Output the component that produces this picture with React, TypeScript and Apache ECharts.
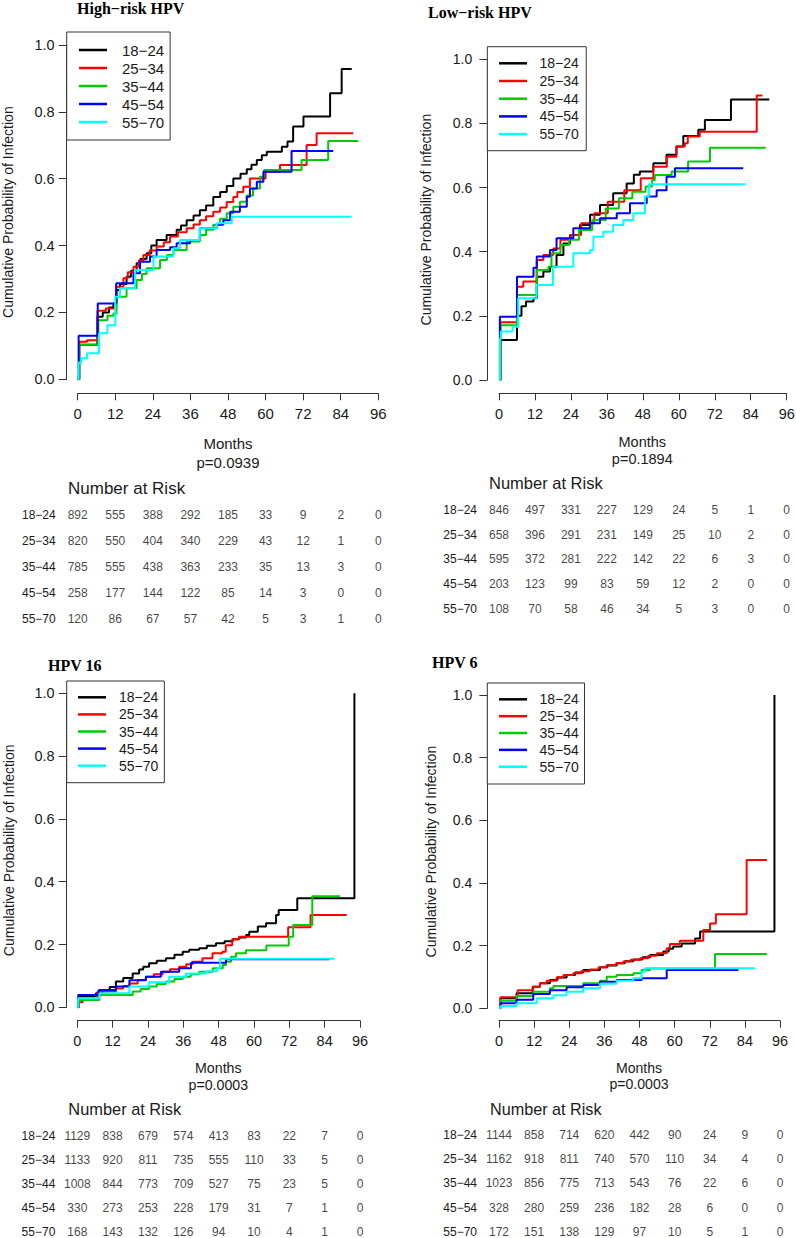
import React, { useEffect, useRef } from "react";
import * as echarts from "echarts";

const GROUPS = ["18−24", "25−34", "35−44", "45−54", "55−70"];
const COLORS = ["#000000", "#ff0000", "#00cd00", "#0000ff", "#00ffff"];
const RISK_MONTHS = [0, 12, 24, 36, 48, 60, 72, 84, 96];

// ---------- High-risk HPV ----------
const hr_18_24 = [[0,0],[0.5,0.103],[6.3,0.187],[8,0.2],[10,0.215],[11.4,0.227],[12.4,0.267],[13.5,0.285],[15.6,0.307],[17,0.325],[18.8,0.347],[20,0.36],[22,0.377],[23.5,0.4],[25.2,0.417],[28.4,0.432],[31.6,0.447],[33,0.46],[34.8,0.476],[37,0.49],[39,0.506],[41,0.52],[43.3,0.545],[45.5,0.56],[47.6,0.578],[49.7,0.601],[52,0.615],[54,0.628],[55.5,0.642],[57.2,0.656],[58.8,0.67],[60.4,0.681],[65.2,0.696],[67,0.711],[68.8,0.756],[72.1,0.786],[80.6,0.856],[84.3,0.928],[87.5,0.928]];
const hr_25_34 = [[0,0],[0.5,0.112],[3,0.117],[6.3,0.205],[9,0.212],[12.3,0.277],[14.6,0.302],[16,0.32],[17.8,0.337],[19.5,0.355],[21,0.372],[23,0.385],[25.2,0.397],[27.5,0.41],[29.5,0.427],[32,0.44],[34.8,0.452],[37,0.463],[39,0.476],[41,0.488],[43.3,0.501],[45.5,0.514],[47.6,0.53],[49.7,0.545],[51,0.56],[52.9,0.576],[55,0.601],[60,0.621],[64.6,0.641],[73.1,0.701],[76.3,0.736],[88,0.736]];
const hr_35_44 = [[0,0],[0.5,0.103],[6.6,0.177],[9.5,0.19],[11.4,0.197],[12.4,0.247],[15.6,0.272],[18.8,0.297],[20.5,0.315],[22,0.332],[26.3,0.357],[28.5,0.372],[30.6,0.387],[34.8,0.412],[39,0.432],[41,0.447],[43.3,0.462],[45.5,0.48],[47.6,0.497],[49.7,0.516],[51.8,0.531],[54,0.55],[56,0.571],[58.2,0.606],[59.5,0.626],[71.5,0.656],[80,0.713],[89.6,0.713]];
const hr_45_54 = [[0,0],[0.3,0.13],[6.4,0.227],[12.3,0.287],[17.8,0.317],[19.9,0.352],[23.1,0.367],[25.2,0.387],[29.5,0.395],[31.6,0.407],[35.9,0.417],[39,0.452],[44.4,0.462],[46.5,0.476],[48.7,0.501],[51.8,0.516],[54,0.546],[55,0.571],[57.2,0.591],[59.3,0.621],[68.3,0.683],[81.6,0.683]];
const hr_55_70 = [[0,0],[0.3,0.05],[1.2,0.063],[3,0.078],[6.8,0.138],[9.5,0.162],[12,0.247],[13.5,0.272],[18.3,0.327],[24.2,0.367],[30.5,0.392],[32.7,0.417],[39,0.452],[44.4,0.467],[49.2,0.486],[87.5,0.486]];
const hrRisk = [
  [892, 555, 388, 292, 185, 33, 9, 2, 0],
  [820, 550, 404, 340, 229, 43, 12, 1, 0],
  [785, 555, 438, 363, 233, 35, 13, 3, 0],
  [258, 177, 144, 122, 85, 14, 3, 0, 0],
  [120, 86, 67, 57, 42, 5, 3, 1, 0],
];

// ---------- Low-risk HPV ----------
const lr_18_24 = [[0,0],[0.5,0.125],[6,0.2],[7.5,0.23],[9,0.245],[11.5,0.255],[12.6,0.322],[14.8,0.338],[17,0.353],[19.2,0.39],[21.5,0.426],[23.7,0.452],[27,0.483],[30.4,0.515],[33.7,0.546],[38.1,0.582],[42.6,0.613],[45,0.64],[47,0.65],[51.5,0.676],[55.9,0.702],[59.2,0.728],[61.5,0.761],[66.5,0.78],[68.7,0.811],[77.4,0.875],[90.2,0.875]];
const lr_25_34 = [[0,0],[0.5,0.18],[6,0.291],[8.1,0.307],[12.6,0.374],[14.8,0.39],[18.1,0.41],[20.5,0.437],[24,0.452],[27.4,0.489],[31.8,0.52],[36.3,0.556],[41.8,0.592],[47.3,0.629],[51.5,0.665],[56,0.696],[59.2,0.728],[62,0.738],[63,0.759],[67,0.774],[86,0.887],[87.9,0.887]];
const lr_35_44 = [[0,0],[0.5,0.171],[6,0.265],[12.6,0.343],[16.5,0.353],[17.5,0.395],[20.5,0.421],[23.4,0.437],[26.7,0.468],[31.1,0.499],[35.6,0.535],[40,0.567],[44.5,0.587],[48.9,0.603],[51.1,0.624],[52,0.639],[57.6,0.65],[63.1,0.681],[70.4,0.724],[89,0.724]];
const lr_45_54 = [[0,0],[0.3,0.197],[6,0.322],[11.5,0.35],[12.6,0.385],[17,0.405],[19.2,0.442],[24.8,0.473],[30.4,0.489],[33.7,0.504],[39.3,0.52],[43.7,0.551],[49.3,0.572],[52.6,0.592],[55.9,0.634],[58.7,0.66],[81.5,0.66]];
const lr_55_70 = [[0,0],[0.3,0.13],[0.6,0.151],[4.5,0.166],[6.4,0.255],[12.5,0.296],[18,0.353],[24.8,0.395],[30.4,0.405],[31.5,0.447],[34.8,0.462],[38.1,0.483],[41.5,0.499],[44.8,0.52],[48.7,0.572],[50,0.61],[82.3,0.61]];
const lrRisk = [
  [846, 497, 331, 227, 129, 24, 5, 1, 0],
  [658, 396, 291, 231, 149, 25, 10, 2, 0],
  [595, 372, 281, 222, 142, 22, 6, 3, 0],
  [203, 123, 99, 83, 59, 12, 2, 0, 0],
  [108, 70, 58, 46, 34, 5, 3, 0, 0],
];

// ---------- HPV 16 ----------
const h16_18_24 = [[0,0],[0.5,0.034],[6.3,0.045],[9,0.055],[11,0.065],[13.1,0.082],[15.6,0.093],[18.8,0.108],[21,0.12],[22.4,0.129],[24.4,0.14],[27,0.148],[30.1,0.156],[33,0.167],[35.8,0.177],[38,0.183],[41.4,0.188],[44,0.196],[47.1,0.204],[50,0.21],[52.8,0.217],[55,0.222],[57.3,0.23],[58.4,0.241],[61.3,0.257],[64.1,0.268],[67.5,0.294],[68.4,0.31],[74.7,0.347],[94.1,1.0]];
const h16_25_34 = [[0,0],[0.5,0.016],[1.8,0.023],[6.9,0.05],[13.1,0.06],[15.5,0.068],[17.7,0.076],[20.5,0.087],[23.3,0.097],[26,0.105],[29,0.113],[31.5,0.121],[34.6,0.129],[37,0.137],[39.1,0.145],[42.5,0.156],[45.9,0.172],[49.3,0.177],[50.4,0.198],[52.6,0.217],[54.9,0.225],[71.6,0.255],[79.2,0.294],[91.5,0.294]];
const h16_35_44 = [[0,0],[0.5,0.023],[7.5,0.039],[18.8,0.05],[21.5,0.058],[24.4,0.066],[27,0.074],[30.1,0.082],[33,0.09],[35.8,0.097],[38.5,0.105],[41.4,0.113],[46,0.124],[49.4,0.135],[50.5,0.145],[52.2,0.161],[53.9,0.172],[57.3,0.182],[64.2,0.197],[71.8,0.225],[73.3,0.262],[79.8,0.354],[89.2,0.354]];
const h16_45_54 = [[0,0],[0.3,0.039],[7.3,0.055],[13.1,0.066],[17.7,0.086],[23.3,0.097],[28.4,0.113],[34.6,0.124],[38.6,0.142],[50.5,0.153],[85.6,0.153]];
const h16_55_70 = [[0,0],[0.3,0.029],[7.5,0.045],[17.7,0.066],[24.4,0.08],[31.2,0.097],[36.9,0.108],[43.7,0.115],[47.5,0.125],[48.5,0.155],[87.3,0.155]];
const h16Risk = [
  [1129, 838, 679, 574, 413, 83, 22, 7, 0],
  [1133, 920, 811, 735, 555, 110, 33, 5, 0],
  [1008, 844, 773, 709, 527, 75, 23, 5, 0],
  [330, 273, 253, 228, 179, 31, 7, 1, 0],
  [168, 143, 132, 126, 94, 10, 4, 1, 0],
];

// ---------- HPV 6 ----------
const h6_18_24 = [[0,0],[0.5,0.032],[6,0.048],[11.5,0.069],[14,0.08],[17.4,0.09],[20,0.098],[23.1,0.106],[26,0.114],[28.8,0.122],[34.5,0.131],[37,0.137],[40.2,0.144],[43,0.15],[45.9,0.156],[49,0.163],[51.6,0.17],[56.1,0.181],[58,0.19],[59.5,0.197],[62.4,0.207],[67,0.223],[68.7,0.245],[94.1,1.0]];
const h6_25_34 = [[0,0],[0.5,0.035],[6.4,0.058],[11.7,0.069],[14,0.08],[16.3,0.088],[19.7,0.099],[22,0.106],[25.4,0.112],[28,0.118],[31.1,0.124],[34,0.131],[36.8,0.138],[40,0.144],[42.5,0.149],[45,0.155],[48.2,0.16],[51,0.168],[53.9,0.176],[57.3,0.192],[58.4,0.205],[61.8,0.216],[69.8,0.25],[72.1,0.271],[74.1,0.3],[84.6,0.473],[91.5,0.473]];
const h6_35_44 = [[0,0],[0.5,0.024],[6,0.039],[11.7,0.053],[17.4,0.064],[18.6,0.071],[28.8,0.08],[34.5,0.088],[36.8,0.101],[40.2,0.106],[45.9,0.112],[48.7,0.122],[51.6,0.127],[73.8,0.173],[91.5,0.173]];
const h6_45_54 = [[0,0],[0.5,0.016],[6,0.027],[11.7,0.046],[17.4,0.058],[23.1,0.067],[28.8,0.074],[34.5,0.085],[40.2,0.09],[48.7,0.096],[57.3,0.122],[81.8,0.122]];
const h6_55_70 = [[0,0],[0.5,0.007],[6,0.016],[12.9,0.032],[18.6,0.042],[23.1,0.053],[28.8,0.064],[34.5,0.078],[40.2,0.088],[45.9,0.096],[48.7,0.117],[49.9,0.128],[87.5,0.128]];
const h6Risk = [
  [1144, 858, 714, 620, 442, 90, 24, 9, 0],
  [1162, 918, 811, 740, 570, 110, 34, 4, 0],
  [1023, 856, 775, 713, 543, 76, 22, 6, 0],
  [328, 280, 259, 236, 182, 28, 6, 0, 0],
  [172, 151, 138, 129, 97, 10, 5, 1, 0],
];

const TITLES = ["High−risk HPV", "Low−risk HPV", "HPV 16", "HPV 6"];
const PVALUES = ["p=0.0939", "p=0.1894", "p=0.0003", "p=0.0003"];
const CURVES = [
  [hr_18_24, hr_25_34, hr_35_44, hr_45_54, hr_55_70],
  [lr_18_24, lr_25_34, lr_35_44, lr_45_54, lr_55_70],
  [h16_18_24, h16_25_34, h16_35_44, h16_45_54, h16_55_70],
  [h6_18_24, h6_25_34, h6_35_44, h6_45_54, h6_55_70],
];
const RISKS = [hrRisk, lrRisk, h16Risk, h6Risk];

// layout (pixels)
const LAYOUT = [
  { gx: 77.7, gy: 45, gw: 300.6, gh: 334.3, yOff: 11, xOff: 14, yMar: 12, xMar: 13, xFont: 15, yFont: 14.5,
    tX: 77, tY: 8, ytX: 8, mX: 228, mY: 443, pY: 462, mFont: 15, narX: 68, narY: 488, narFont: 17,
    tTop: 502, tH: 129.5, lg: { left: 66.7, top: 32, h: 18, pad: [9, 6, 9, 12.3], font: 15, tp: 10 } },
  { gx: 499, gy: 59.3, gw: 287.7, gh: 320.7, yOff: 11.7, xOff: 13.3, yMar: 15, xMar: 13, xFont: 14.5, yFont: 14,
    tX: 428, tY: 12, ytX: 426, mX: 642.3, mY: 441.7, pY: 459, mFont: 14.5, narX: 489, narY: 483, narFont: 16.5,
    tTop: 497.6, tH: 123.5, lg: { left: 487.3, top: 46.7, h: 17.7, pad: [7.75, 7.4, 7.75, 11.7], font: 14, tp: 7.5 } },
  { gx: 77.3, gy: 693.3, gw: 282.7, gh: 314, yOff: 10.6, xOff: 13.4, yMar: 12, xMar: 12.5, xFont: 14.5, yFont: 14.5,
    tX: 48, tY: 665, ytX: 9, mX: 218.3, mY: 1068, pY: 1085, mFont: 14.2, narX: 68.3, narY: 1109.3, narFont: 16.4,
    tTop: 1123.6, tH: 120.75, lg: { left: 66.7, top: 681, h: 17.1, pad: [7.75, 6, 8.45, 11.3], font: 14, tp: 8 } },
  { gx: 499, gy: 695, gw: 281, gh: 313.3, yOff: 11.7, xOff: 12.4, yMar: 15, xMar: 12.5, xFont: 14.5, yFont: 14,
    tX: 432, tY: 662, ytX: 431, mX: 639, mY: 1067.7, pY: 1084, mFont: 14.1, narX: 490, narY: 1108.7, narFont: 16.2,
    tTop: 1122.9, tH: 121, lg: { left: 487.3, top: 683, h: 16.85, pad: [7.9, 5.7, 8.85, 11.7], font: 14, tp: 7.5 } },
];

const SANS = "'Liberation Sans', Arial, sans-serif";
const SERIF = "'Liberation Serif', 'Times New Roman', serif";
const AX = "#333";
const TXT = "#1a1a1a";

function buildOption() {
  const grid: any[] = [];
  const xAxis: any[] = [];
  const yAxis: any[] = [];
  const series: any[] = [];
  const legend: any[] = [];
  const graphic: any[] = [];

  // plot grids: 0..3, table grids: 4..7
  LAYOUT.forEach((L, i) => {
    grid[i] = { left: L.gx, top: L.gy, width: L.gw, height: L.gh, outerBoundsMode: "none", containLabel: false };
    grid[4 + i] = { left: L.gx, top: L.tTop, width: L.gw, height: L.tH, outerBoundsMode: "none", containLabel: false };

    xAxis[i] = {
      type: "value", gridIndex: i, min: 0, max: 96, interval: 12, offset: L.xOff,
      axisLine: { show: true, onZero: false, lineStyle: { color: AX, width: 1 } },
      axisTick: { show: true, length: 7, lineStyle: { color: AX, width: 1 } },
      axisLabel: { margin: L.xMar, fontSize: L.xFont, color: TXT, fontFamily: SANS },
      splitLine: { show: false },
    };
    yAxis[i] = {
      type: "value", gridIndex: i, min: 0, max: 1, interval: 0.2, offset: L.yOff,
      axisLine: { show: true, onZero: false, lineStyle: { color: AX, width: 1 } },
      axisTick: { show: true, length: 8, lineStyle: { color: AX, width: 1 } },
      axisLabel: { margin: L.yMar, fontSize: L.yFont, color: TXT, fontFamily: SANS, formatter: (v: number) => v.toFixed(1) },
      splitLine: { show: false },
    };
    xAxis[4 + i] = { type: "value", gridIndex: 4 + i, min: 0, max: 96, show: false };
    yAxis[4 + i] = {
      type: "category", gridIndex: 4 + i, data: GROUPS, inverse: true,
      axisLine: { show: false }, axisTick: { show: false }, splitLine: { show: false },
      axisLabel: { margin: 22, fontSize: 12, color: TXT, fontFamily: SANS, padding: [0, 0, 4, 0] },
    };

    CURVES[i].forEach((d, g) => {
      series.push({
        type: "line", name: GROUPS[g], xAxisIndex: i, yAxisIndex: i, data: d, step: "end",
        symbol: "none", silent: true, lineStyle: { color: COLORS[g], width: 2 }, itemStyle: { color: COLORS[g] },
        z: 2 + g,
      });
    });
    legend.push({
      data: GROUPS, orient: "vertical", left: L.lg.left, top: L.lg.top, icon: "rect", itemWidth: 28, itemHeight: 2.5, itemGap: 0,
      padding: L.lg.pad, borderColor: AX, borderWidth: 1, backgroundColor: "#fff", selectedMode: false,
      textStyle: { fontSize: L.lg.font, lineHeight: L.lg.h, height: L.lg.h, fontFamily: SANS, color: TXT, padding: [0, 0, 0, L.lg.tp] },
    });

    graphic.push({ type: "text", x: L.tX, y: L.tY, style: { text: TITLES[i], font: `bold 16px ${SERIF}`, fill: "#000", align: "left", verticalAlign: "middle" } });
    graphic.push({ type: "text", x: L.ytX, y: L.gy + L.gh / 2, rotation: Math.PI / 2, style: { text: "Cumulative Probability of Infection", font: `14px ${SANS}`, fill: TXT, align: "center", verticalAlign: "middle" } });
    graphic.push({ type: "text", x: L.mX, y: L.mY, style: { text: "Months", font: `${L.mFont}px ${SANS}`, fill: TXT, align: "center", verticalAlign: "middle" } });
    graphic.push({ type: "text", x: L.mX, y: L.pY, style: { text: PVALUES[i], font: `${L.mFont}px ${SANS}`, fill: TXT, align: "center", verticalAlign: "middle" } });
    graphic.push({ type: "text", x: L.narX, y: L.narY, style: { text: "Number at Risk", font: `${L.narFont}px ${SANS}`, fill: TXT, align: "left", verticalAlign: "middle" } });
  });

  LAYOUT.forEach((L, i) => {
    const pts: any[] = [];
    RISKS[i].forEach((row, r) => row.forEach((v, k) => pts.push([RISK_MONTHS[k], r, v])));
    series.push({
      type: "scatter", xAxisIndex: 4 + i, yAxisIndex: 4 + i, data: pts, symbolSize: 0, silent: true,
      label: { show: true, position: "inside", formatter: (p: any) => String(p.value[2]), fontSize: 12, color: "#111", fontFamily: SANS },
    });
  });

  return { animation: false, backgroundColor: "#fff", grid, xAxis, yAxis, series, legend, graphic };
}

export default function App() {
  const ref = useRef<HTMLDivElement>(null);
  useEffect(() => {
    if (!ref.current) return;
    const chart = echarts.init(ref.current, undefined, { renderer: "svg" });
    chart.setOption(buildOption() as any);
    return () => chart.dispose();
  }, []);
  return <div ref={ref} style={{ position: "absolute", left: 0, top: 0, width: 796, height: 1238 }} />;
}
